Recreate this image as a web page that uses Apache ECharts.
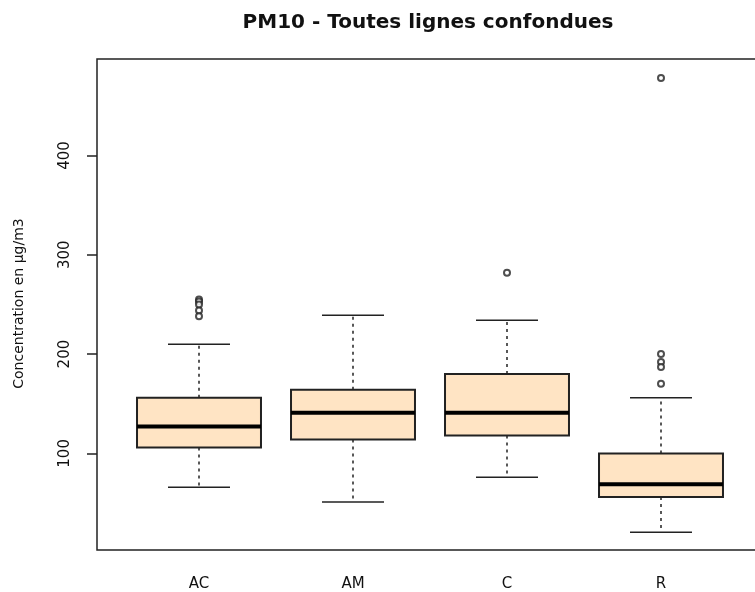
<!DOCTYPE html>
<html>
<head>
<meta charset="utf-8">
<script src="https://cdn.jsdelivr.net/npm/echarts@6/dist/echarts.min.js"></script>
<style>html,body{margin:0;padding:0;background:#fff}#c{width:755px;height:592px}</style>
</head>
<body>
<div id="c"></div>
<script>
const categories = ['AC', 'AM', 'C', 'R'];
// [lower whisker, Q1, median, Q3, upper whisker]
const boxStats = [
  [66, 106, 127, 156, 210],
  [51, 114, 141, 164, 239],
  [76, 118, 141, 180, 234],
  [20.5, 56, 69, 100, 156]
];
const outliers = [
  ['AC', 255], ['AC', 253], ['AC', 250], ['AC', 244], ['AC', 238],
  ['C', 282],
  ['R', 478], ['R', 200], ['R', 192], ['R', 187], ['R', 170]
];
const yTicks = [100, 200, 300, 400];
const titleText = 'PM10 - Toutes lignes confondues';
const yName = 'Concentration en µg/m3';

const boxData = boxStats.map((s, i) => [i].concat(s));
const ink = '#222';
const font = 'DejaVu Sans';

const chart = echarts.init(document.getElementById('c'), null, {renderer: 'canvas'});
chart.setOption({
  animation: false,
  backgroundColor: '#fff',
  grid: {left: 122, right: 17, top: 59, bottom: 42},
  graphic: [
    {type: 'rect', shape: {x: 97, y: 59, width: 700, height: 491},
     style: {fill: 'none', stroke: ink, lineWidth: 1.5}, z: 10},
    {type: 'text', x: 428, y: 23,
     style: {text: titleText, textAlign: 'center', textVerticalAlign: 'middle',
             font: 'bold 20px "DejaVu Sans"', fill: '#111'}}
  ],
  xAxis: {
    type: 'category', data: categories,
    axisLine: {show: false},
    axisTick: {alignWithLabel: true, length: 8, lineStyle: {color: ink, width: 1.5}},
    axisLabel: {margin: 29, color: '#111', fontSize: 15, fontFamily: font},
    splitLine: {show: false}
  },
  yAxis: {
    type: 'value', min: 4.7, max: 497.2, offset: 25,
    axisLine: {show: false},
    splitLine: {show: false},
    axisTick: {show: true, customValues: yTicks, length: 10, lineStyle: {color: ink, width: 1.5}},
    axisLabel: {customValues: yTicks, rotate: 90, margin: 24, color: '#111', fontSize: 15, fontFamily: font},
    name: yName, nameLocation: 'middle', nameGap: 71,
    nameTextStyle: {color: '#111', fontSize: 14, fontFamily: font}
  },
  series: [
    {
      type: 'custom',
      data: boxData,
      encode: {x: 0, y: [1, 2, 3, 4, 5]},
      renderItem: function (params, api) {
        const i = api.value(0);
        const lo = api.coord([i, api.value(1)]);
        const q1 = api.coord([i, api.value(2)]);
        const md = api.coord([i, api.value(3)]);
        const q3 = api.coord([i, api.value(4)]);
        const hi = api.coord([i, api.value(5)]);
        const bw = api.size([1, 0])[0] * 0.805;
        const cx = lo[0];
        const cw = bw / 2;
        const lineStyle = {stroke: ink, lineWidth: 1.5};
        return {
          type: 'group',
          children: [
            {type: 'line', shape: {x1: cx, y1: q3[1], x2: cx, y2: hi[1]},
             style: {stroke: ink, lineWidth: 1.5, lineDash: [3, 4]}},
            {type: 'line', shape: {x1: cx, y1: q1[1], x2: cx, y2: lo[1]},
             style: {stroke: ink, lineWidth: 1.5, lineDash: [3, 4]}},
            {type: 'line', shape: {x1: cx - cw / 2, y1: hi[1], x2: cx + cw / 2, y2: hi[1]}, style: lineStyle},
            {type: 'line', shape: {x1: cx - cw / 2, y1: lo[1], x2: cx + cw / 2, y2: lo[1]}, style: lineStyle},
            {type: 'rect', shape: {x: cx - bw / 2, y: q3[1], width: bw, height: q1[1] - q3[1]},
             style: {fill: '#FFE4C4', stroke: ink, lineWidth: 2}},
            {type: 'line', shape: {x1: cx - bw / 2, y1: md[1], x2: cx + bw / 2, y2: md[1]},
             style: {stroke: '#000', lineWidth: 4}}
          ]
        };
      }
    },
    {
      type: 'scatter',
      data: outliers,
      symbol: 'emptyCircle',
      symbolSize: 6,
      itemStyle: {color: ink, borderColor: ink, borderWidth: 1.5},
      z: 5
    }
  ]
});
</script>
</body>
</html>
